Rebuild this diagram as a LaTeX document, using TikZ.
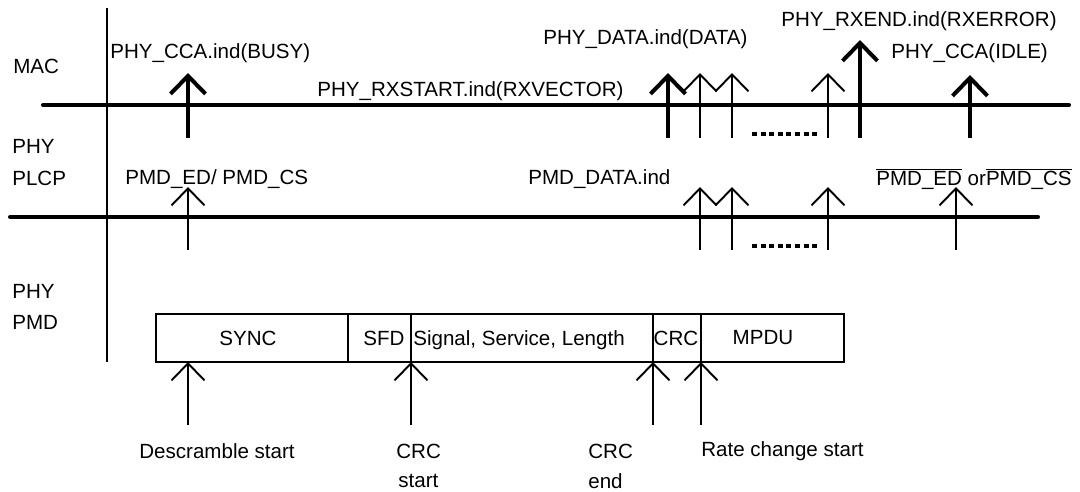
\documentclass[tikz,border=0pt]{standalone}
\usepackage{fontspec}
\setmainfont{Liberation Sans}
\usetikzlibrary{arrows.meta}

\newcommand{\ovl}[1]{$\overline{\hbox{#1}}$}

\begin{document}
\begin{tikzpicture}[x=0.02cm,y=-0.02cm,
        lbl/.style={anchor=west,inner sep=0pt,font=\fontsize{11.7}{14}\selectfont},
        fld/.style={inner sep=0pt,font=\fontsize{11.7}{14}\selectfont},
        layerline/.style={line width=2.3pt,line cap=round},
        thinline/.style={line width=1.1pt},
        thickup/.style={line width=2.3pt,arrows = -{Straight Barb[length=0.36cm,width=0.7cm]}},
        thinup/.style={line width=1.1pt,arrows = -{Straight Barb[length=0.34cm,width=0.66cm]}},
        dotrow/.style={line width=0.09cm,dash pattern=on 0.1cm off 0.072cm}]

        % \draw [help lines] (0,0) grid (1080,491);
        \useasboundingbox (0,0) rectangle (1080,491);

        % layers
        \path   (13,66)  node (mac)  [lbl] {MAC}
                (12,146) node (phya) [lbl] {PHY}
                (12,178) node (plcp) [lbl] {PLCP}
                (12,291) node (phyb) [lbl] {PHY}
                (12,322) node (pmd)  [lbl] {PMD};

        \coordinate (vtop) at (107,8);
        \coordinate (vbot) at (107,362);
        \coordinate (macl) at (43,105);
        \coordinate (macr) at (1069,105);
        \coordinate (plcpl) at (10,217);
        \coordinate (plcpr) at (1038,217);

        \draw[thinline] (vtop) -- (vbot);
        \draw[layerline] (macl) -- (macr);
        \draw[layerline] (plcpl) -- (plcpr);

        % primitives
        \path   (110,53) node (busy)    [lbl] {PHY\_CCA.ind(BUSY)}
                (317,91) node (rxstart) [lbl] {PHY\_RXSTART.ind(RXVECTOR)}
                (543,39) node (data)    [lbl] {PHY\_DATA.ind(DATA)}
                (781,21) node (rxend)   [lbl] {PHY\_RXEND.ind(RXERROR)}
                (891,53) node (idle)    [lbl] {PHY\_CCA(IDLE)}
                (125,179) node (edcs)   [lbl] {PMD\_ED/ PMD\_CS}
                (528,179) node (pmddata) [lbl] {PMD\_DATA.ind}
                (876,179) node (edcsoff) [lbl] {\ovl{PMD\_ED} or\ovl{PMD\_CS}};

        % MAC side
        \coordinate (busyb) at (188,138);   \coordinate (busyt) at (188,73);
        \coordinate (rxsb) at (668,138);    \coordinate (rxst) at (668,73);
        \coordinate (dab) at (700,138);     \coordinate (dat) at (700,73);
        \coordinate (dbb) at (732,138);     \coordinate (dbt) at (732,73);
        \coordinate (dcb) at (828,138);     \coordinate (dct) at (828,73);
        \coordinate (rxeb) at (860,138);    \coordinate (rxet) at (860,40);
        \coordinate (idleb) at (970,138);   \coordinate (idlet) at (970,75);

        \draw[thickup] (busyb) -- (busyt);
        \draw[thickup] (rxsb) -- (rxst);
        \draw[thinup] (dab) -- (dat);
        \draw[thinup] (dbb) -- (dbt);
        \draw[thinup] (dcb) -- (dct);
        \draw[thickup] (rxeb) -- (rxet);
        \draw[thickup] (idleb) -- (idlet);

        \coordinate (macdotsl) at (752,134);
        \coordinate (macdotsr) at (819,134);
        \draw[dotrow] (macdotsl) -- (macdotsr);

        % PLCP side
        \coordinate (edb) at (188,250);     \coordinate (edt) at (188,187);
        \coordinate (pab) at (700,250);     \coordinate (pat) at (700,187);
        \coordinate (pbb) at (732,250);     \coordinate (pbt) at (732,187);
        \coordinate (pcb) at (828,250);     \coordinate (pct) at (828,187);
        \coordinate (offb) at (956,250);    \coordinate (offt) at (956,187);

        \draw[thinup] (edb) -- (edt);
        \draw[thinup] (pab) -- (pat);
        \draw[thinup] (pbb) -- (pbt);
        \draw[thinup] (pcb) -- (pct);
        \draw[thinup] (offb) -- (offt);

        \coordinate (plcpdotsl) at (752,246);
        \coordinate (plcpdotsr) at (819,246);
        \draw[dotrow] (plcpdotsl) -- (plcpdotsr);

        % PPDU frame
        \draw[thinline] (156,314) rectangle (844,362);
        \draw[thinline] (348,314) -- (348,362);
        \draw[thinline] (411,314) -- (411,362);
        \draw[thinline] (653,314) -- (653,362);
        \draw[thinline] (701,314) -- (701,362);

        \path   (248,338) node (sync) [fld] {SYNC}
                (384,338) node (sfd)  [fld] {SFD}
                (413,340) node (sig)  [lbl] {Signal, Service, Length}
                (676,338) node (crc)  [fld] {CRC}
                (763,338) node (mpdu) [fld] {MPDU};

        % receive events
        \coordinate (descb) at (188,425);   \coordinate (desct) at (188,362);
        \coordinate (crcsb) at (411,425);   \coordinate (crcst) at (411,362);
        \coordinate (crceb) at (653,425);   \coordinate (crcet) at (653,362);
        \coordinate (rateb) at (701,425);   \coordinate (ratet) at (701,362);

        \draw[thinup] (descb) -- (desct);
        \draw[thinup] (crcsb) -- (crcst);
        \draw[thinup] (crceb) -- (crcet);
        \draw[thinup] (rateb) -- (ratet);

        \path   (139,451) node (descr)   [lbl] {Descramble start}
                (396,451) node (crcsa)   [lbl] {CRC}
                (398,481) node (crcsbtx) [lbl] {start}
                (588,451) node (crcea)   [lbl] {CRC}
                (588,481) node (crcebtx) [lbl] {end}
                (701,451) node (rate)    [lbl] {Rate change start};

\end{tikzpicture}
\end{document}
